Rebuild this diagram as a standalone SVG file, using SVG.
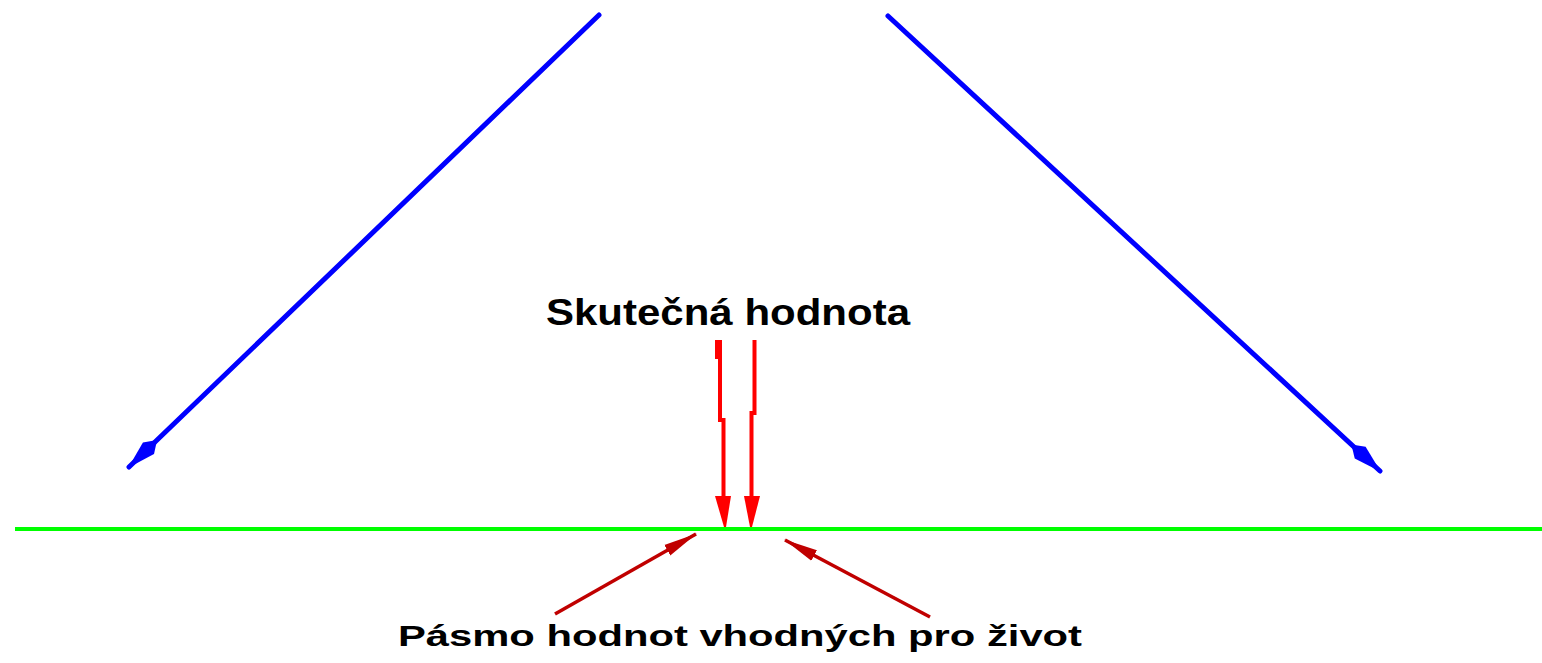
<svg xmlns="http://www.w3.org/2000/svg" width="1542" height="663" viewBox="0 0 1542 663">
<style>
.blue{stroke:#0000ff;stroke-width:5;fill:none;stroke-linecap:round}
.red{stroke:#ff0000;stroke-width:4;fill:none}
.dred{stroke:#c00000;stroke-width:3.5;fill:none}
.t{font-family:"Liberation Sans",Arial,sans-serif;font-weight:bold;fill:#000}
</style>
<defs>
<marker id="mb" viewBox="0 0 44 20" refX="43" refY="10" markerWidth="44" markerHeight="20" markerUnits="userSpaceOnUse" orient="auto">
<path d="M4,10 L16,2 L44,10 L16,18 Z" fill="#0000ff"/>
</marker>
<marker id="md" viewBox="0 0 34 14" refX="33" refY="7" markerWidth="34" markerHeight="14" markerUnits="userSpaceOnUse" orient="auto">
<path d="M0,1 L34,7 L0,13 Z" fill="#c00000"/>
</marker>
</defs>
<rect width="1542" height="663" fill="#fff"/>
<g id="connectors">
<line class="blue" x1="599" y1="15" x2="129" y2="467" marker-end="url(#mb)"/>
<line class="blue" x1="888" y1="16" x2="1380" y2="471" marker-end="url(#mb)"/>
<path class="red" d="M720,340 V420 H723.5 V500"/>
<rect x="715" y="340" width="7" height="19" fill="#ff0000"/>
<polygon points="715,496 731,496 726,527 724,527" fill="#ff0000"/>
<path class="red" d="M754.5,340 V413 H751.5 V500"/>
<polygon points="744,496 760,496 752,527 750,527" fill="#ff0000"/>
<line class="dred" x1="555" y1="614" x2="696" y2="534" marker-end="url(#md)"/>
<line class="dred" x1="930" y1="617" x2="785" y2="540" marker-end="url(#md)"/>
</g>
<g id="baseline">
<rect x="15" y="527" width="1527" height="4" fill="#00ff00"/>
</g>
<g id="label-actual">
<text class="t" x="546" y="325" font-size="37" textLength="364" lengthAdjust="spacingAndGlyphs">Skutečná hodnota</text>
</g>
<g id="label-band">
<text class="t" x="398" y="646" font-size="29" textLength="684" lengthAdjust="spacingAndGlyphs">Pásmo hodnot vhodných pro život</text>
</g>
</svg>
